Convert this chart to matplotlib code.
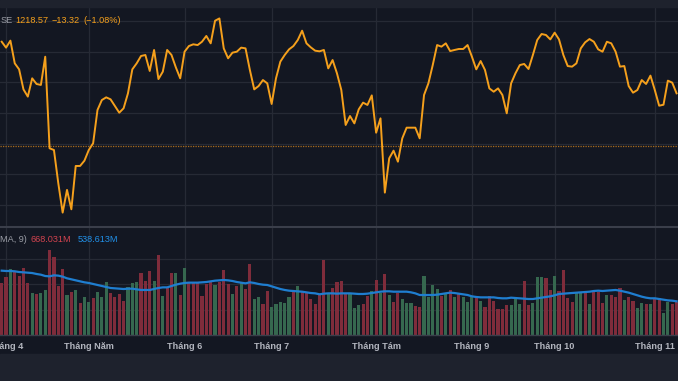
import matplotlib
matplotlib.use("Agg")
import matplotlib.pyplot as plt
import numpy as np

plt.rcParams['font.family'] = ['Liberation Sans', 'DejaVu Sans']

# daily close, one value per bar
close = [1260.6, 1255.8, 1261.5, 1243.0, 1238.1, 1221.8, 1215.9, 1230.8, 1226.2, 1225.4,
         1248.4, 1173.8, 1172.4, 1145.3, 1121.4, 1139.9, 1124.1, 1159.4, 1159.4, 1163.7,
         1172.4, 1177.9, 1205.0, 1213.1, 1215.3, 1213.7, 1208.3, 1202.8, 1206.4, 1218.6,
         1238.1, 1243.0, 1249.0, 1249.8, 1236.8, 1253.9, 1230.2, 1236.2, 1253.9, 1249.8,
         1239.7, 1230.8, 1252.5, 1257.1, 1258.5, 1257.9, 1260.6, 1265.3, 1259.3, 1277.7,
         1279.6, 1255.2, 1247.1, 1251.7, 1252.5, 1255.8, 1255.2, 1237.6, 1221.8, 1224.5,
         1229.4, 1226.7, 1209.9, 1230.8, 1244.4, 1249.8, 1254.4, 1257.1, 1262.0, 1269.6,
         1259.3, 1256.0, 1253.3, 1252.8, 1253.9, 1238.9, 1245.7, 1234.9, 1221.3, 1192.8,
         1200.1, 1194.1, 1205.5, 1211.0, 1209.1, 1216.9, 1186.5, 1198.2, 1137.7, 1165.6,
         1171.9, 1162.9, 1181.9, 1190.6, 1190.6, 1190.6, 1181.9, 1217.2, 1226.7, 1241.6,
         1257.9, 1256.6, 1259.3, 1253.0, 1253.9, 1254.7, 1254.7, 1257.9, 1248.4, 1238.1,
         1244.9, 1237.6, 1222.6, 1219.9, 1222.6, 1217.2, 1202.3, 1226.7, 1234.9, 1241.6,
         1242.5, 1238.4, 1249.8, 1262.0, 1266.9, 1266.1, 1262.5, 1268.0, 1262.5, 1249.8,
         1240.8, 1240.3, 1243.0, 1255.2, 1260.1, 1262.8, 1260.6, 1254.4, 1252.5, 1260.6,
         1259.3, 1252.5, 1240.3, 1240.8, 1224.5, 1219.1, 1221.3, 1229.4, 1226.2, 1233.0,
         1221.3, 1208.5, 1209.3, 1228.9, 1227.3, 1218.57]

# volume in millions
volume = [811, 905, 1036, 994, 932, 1047, 811, 665, 644, 665,
          707, 1335, 1230, 775, 1036, 628, 680, 707, 508, 591,
          523, 586, 680, 602, 837, 654, 602, 644, 539, 759,
          822, 837, 968, 848, 1005, 848, 1256, 612, 759, 979,
          968, 628, 1057, 811, 811, 811, 618, 796, 837, 785,
          837, 1021, 796, 644, 775, 822, 717, 1110, 560, 602,
          487, 691, 445, 487, 513, 497, 591, 680, 769, 680,
          654, 560, 487, 628, 1178, 654, 733, 837, 848, 665,
          665, 429, 471, 481, 612, 691, 864, 665, 953, 628,
          523, 654, 560, 508, 508, 455, 445, 926, 602, 785,
          722, 612, 644, 707, 602, 665, 591, 523, 591, 602,
          534, 445, 612, 534, 403, 403, 471, 471, 602, 487,
          853, 466, 508, 916, 905, 890, 707, 932, 696, 1021,
          576, 513, 654, 654, 654, 487, 680, 680, 497, 628,
          628, 591, 733, 550, 602, 534, 419, 497, 487, 487,
          560, 576, 351, 513, 487, 523]

# bar direction: u = up (green), d = down (red), 10 bars per group
direction = list("".join([
    "dduddddudu", "uddddududu", "uduuuddddu", "uudddududd",
    "ududdddddu", "dddududduu", "dduuuuudud", "dddddudddd",
    "uuuddududu", "dduuudduuu", "udududuuud", "udddddduuu",
    "dduuuddudd", "dduududddu", "dddudduudu", "dduudd",
]))

# 9-period volume moving average (millions)
vol_ma = [1010, 1005, 1005, 1000, 989, 984, 979, 973, 958, 947,
          926, 921, 937, 932, 916, 890, 874, 858, 843, 827,
          817, 801, 785, 769, 754, 738, 733, 727, 722, 727,
          727, 717, 707, 707, 707, 722, 738, 748, 748, 769,
          790, 806, 817, 822, 822, 822, 827, 832, 843, 853,
          858, 864, 858, 848, 832, 822, 811, 827, 817, 801,
          790, 785, 764, 743, 722, 707, 696, 691, 686, 680,
          670, 659, 654, 639, 649, 654, 654, 649, 654, 654,
          654, 649, 644, 644, 649, 659, 670, 680, 686, 686,
          680, 680, 680, 680, 670, 654, 628, 628, 628, 628,
          633, 644, 654, 665, 659, 649, 639, 628, 607, 597,
          591, 591, 591, 591, 581, 576, 576, 586, 581, 576,
          570, 565, 565, 576, 586, 597, 607, 623, 644, 649,
          654, 659, 665, 670, 675, 680, 691, 696, 691, 696,
          701, 707, 696, 680, 665, 644, 623, 602, 586, 576,
          576, 565, 555, 544, 539, 529]

month_pos = [1, 20, 42, 62, 86, 108, 127, 150]
month_labels = ["Tháng 4", "Tháng Năm", "Tháng 6", "Tháng 7",
                "Tháng Tám", "Tháng 9", "Tháng 10", "Tháng 11"]
prev_line = 1175.7

BG = '#131722'
GRID = '#262a35'
ORANGE = '#f5a01c'
RED_BAR = '#7f2c3b'
GREEN_BAR = '#36684f'
BLUE = '#1f7ed0'

W, H = 678, 381
fig = plt.figure(figsize=(W / 100, H / 100), dpi=100, facecolor=BG)

def fy(py):
    return 1 - py / H

# top strip and bottom band
fig.patches.append(plt.Rectangle((0, fy(7)), 1, 7 / H, transform=fig.transFigure,
                                 color='#1e222d', zorder=0))
fig.patches.append(plt.Rectangle((0, 0), 1, fy(354), transform=fig.transFigure,
                                 color='#1e222d', zorder=0))

x = np.arange(len(close))
xlim = (-0.39, 155.33)

# price panel
ax = fig.add_axes([0, fy(226), 1, 219 / H])
ax.set_facecolor(BG)
ax.plot(x, close, color=ORANGE, lw=1.4, solid_joinstyle='round', zorder=3)
ax.axhline(prev_line, color='#a86a1c', lw=0.9, ls=(0, (1, 1)), zorder=2)
ax.set_xlim(*xlim)
ax.set_ylim(1110.5, 1288.9)
ax.set_yticks(np.arange(1127.5, 1290, 25))
ax.set_xticks(month_pos)
ax.grid(True, color=GRID, lw=0.9)
ax.tick_params(length=0, labelleft=False, labelbottom=False)
for s in ax.spines.values():
    s.set_visible(False)

# volume panel
axv = fig.add_axes([0, fy(335), 1, 107 / H])
axv.set_facecolor(BG)
colors = [GREEN_BAR if d == 'u' else RED_BAR for d in direction]
axv.bar(x, volume, width=0.72, color=colors, zorder=2)
axv.plot(x, vol_ma, color=BLUE, lw=1.6, zorder=3)
axv.set_xlim(*xlim)
axv.set_ylim(0, 1680)
axv.set_yticks([400, 800, 1200])
axv.set_xticks(month_pos)
axv.set_xticklabels(month_labels, fontsize=6.6, color='#b2b5be', fontweight='bold')
axv.grid(True, color=GRID, lw=0.9)
axv.tick_params(length=0, labelleft=False, pad=5)
for s in axv.spines.values():
    s.set_visible(False)

# separator lines
fig.add_artist(plt.Line2D([0, 1], [fy(226.5), fy(226.5)], color='#3a3e4a', lw=1.5))
fig.add_artist(plt.Line2D([0, 1], [fy(335.2), fy(335.2)], color='#3a3e4a', lw=1.0))

# legends (only the part visible in the cropped original)
fs = 6.6
fig.text(0.5 / W, fy(20.5), "SE", ha='left', va='center', fontsize=fs, color='#9a9da6')
fig.text(15.5 / W, fy(20.5), "1218.57", ha='left', va='center', fontsize=fs, color=ORANGE)
fig.text(52 / W, fy(20.5), "\u221213.32", ha='left', va='center', fontsize=fs, color=ORANGE)
fig.text(83 / W, fy(20.5), "(\u22121.08%)", ha='left', va='center', fontsize=fs, color=ORANGE)

fig.text(0.5 / W, fy(239.3), "MA, 9)", ha='left', va='center', fontsize=fs, color='#9a9da6')
fig.text(30.7 / W, fy(239.3), "668.031M", ha='left', va='center', fontsize=fs, color='#d2434f')
fig.text(77.3 / W, fy(239.3), "538.613M", ha='left', va='center', fontsize=fs, color='#2190e8')

fig.savefig("out.png", dpi=100, facecolor=fig.get_facecolor())
